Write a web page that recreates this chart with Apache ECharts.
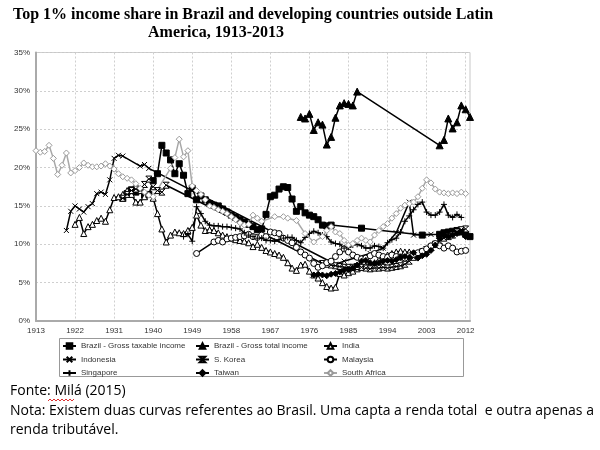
<!DOCTYPE html>
<html><head><meta charset="utf-8">
<script src="https://cdn.jsdelivr.net/npm/echarts@6/dist/echarts.min.js"></script>
<style>html,body{margin:0;padding:0;background:#fff}#c{width:600px;height:450px}</style>
</head><body><div id="c"></div>
<script>
// ---- tick labels / axis ----
const yTicks = [0, 5, 10, 15, 20, 25, 30, 35];
const firstYear = 1913, lastYear = 2013;

// ---- data (year, top 1% share in %) ----
const brTaxYears = [1933,1934,1935,1936,1937,1938,1939,1940,1941,1942,1943,1944,1945,1946,1947,1948,1949,1950,1951,1952,1953,1954,1955,1956,1957,1958,1959,1960,1961,1962,1963,1964,1965,1966,1967,1968,1969,1970,1971,1972,1973,1974,1975,1976,1977,1978,1979,1980,1981,1988,2002,2006,2007,2008,2009,2010,2011,2012,2013];
const brTaxVals  = [16.0,16.6,17.1,16.8,17.1,16.4,16.5,18.3,19.2,22.9,21.9,21.0,19.2,20.5,19.0,16.6,17.3,15.8,16.3,15.8,15.3,15.1,15.0,14.6,14.2,13.8,13.5,13.2,12.9,12.6,12.3,11.9,12.0,13.9,16.2,16.4,17.2,17.5,17.4,15.9,14.3,14.9,14.1,13.8,13.6,13.2,12.5,12.4,12.5,12.1,11.2,11.3,11.5,11.6,11.7,11.8,11.6,11.3,11.0];

const brTotYears = [1974,1975,1976,1977,1978,1979,1980,1981,1982,1983,1984,1985,1986,1987,2006,2007,2008,2009,2010,2011,2012,2013];
const brTotVals  = [26.6,26.4,27.0,24.9,25.9,25.6,23.0,24.0,26.5,28.1,28.4,28.3,28.1,29.9,22.9,23.6,26.4,25.1,25.9,28.1,27.6,26.6];

const indiaYears = [1922,1923,1924,1925,1926,1927,1928,1929,1930,1931,1932,1933,1934,1935,1936,1937,1938,1939,1940,1941,1942,1943,1944,1945,1946,1947,1948,1949,1950,1951,1952,1953,1954,1955,1956,1957,1958,1959,1960,1961,1962,1963,1964,1965,1966,1967,1968,1969,1970,1971,1972,1973,1974,1975,1976,1977,1978,1979,1980,1981,1982,1983,1984,1985,1986,1987,1988,1989,1990,1991,1992,1993,1994,1995,1996,1997,1998,1999];
const indiaVals  = [12.6,13.5,11.4,12.3,12.6,13.1,13.4,13.0,14.5,16.1,16.2,16.5,17.0,16.5,15.5,15.5,16.2,16.5,16.0,14.0,12.0,10.3,11.2,11.6,11.5,11.4,11.8,12.2,13.8,12.5,11.8,11.9,11.8,11.5,11.2,11.0,10.8,10.6,10.5,10.4,10.2,9.7,10.0,9.6,9.2,9.0,8.8,8.6,8.3,7.6,6.9,6.6,7.3,7.4,6.5,6.0,5.6,5.0,4.5,4.3,4.4,6.2,6.0,6.3,6.5,6.8,7.0,7.2,7.4,7.6,8.0,8.3,8.6,8.8,9.0,9.1,9.0,9.0];

const indoYears = [1920,1921,1922,1923,1924,1925,1926,1927,1928,1929,1930,1931,1932,1933,1937,1938,1939,1982,1984,1987,1990,1993,1996,1999,2000,2004];
const indoVals  = [11.8,14.3,15.0,14.6,14.2,14.9,15.3,16.6,16.8,16.5,18.4,21.2,21.6,21.5,20.2,20.4,19.9,7.4,7.8,8.3,8.8,9.5,11.5,15.5,11.2,11.3];

const koreaYears = [1933,1934,1935,1936,1937,1938,1939,1940,1941,1942,1943,1979,1980,1981,1982,1983,1984,1985,1986,1987,1988,1989,1990,1991,1992,1993,1994,1995,1996,1997,1998,1999,2000,2001,2002,2003,2004,2005,2006,2007,2008,2009,2010,2011,2012];
const koreaVals  = [16.0,16.5,17.0,17.2,17.0,17.8,18.5,17.5,17.0,16.8,17.7,7.5,7.4,7.3,7.2,7.1,7.0,7.0,7.0,7.1,7.0,6.9,6.8,6.9,6.9,7.0,6.9,7.0,7.1,7.2,7.4,7.8,8.3,8.6,9.0,9.3,9.6,10.0,10.4,10.8,11.0,11.2,11.6,11.9,12.0];

const malayYears = [1950,1954,1955,1956,1957,1958,1959,1960,1961,1962,1963,1964,1965,1966,1967,1968,1969,1970,1971,1972,1973,1974,1975,1976,1977,1978,1979,1980,1981,1982,1983,1984,1985,1986,1987,1988,1989,1990,1991,1992,1993,1994,1995,1996,1997,1998,1999,2000,2001,2002,2003,2004,2005,2006,2007,2008,2009,2010,2011,2012];
const malayVals  = [8.8,10.3,10.5,10.3,10.7,10.8,10.9,11.0,11.1,11.3,11.0,10.9,11.2,11.0,11.6,11.5,11.4,10.8,10.5,10.2,9.6,9.0,8.6,8.2,7.5,7.0,7.2,7.6,7.8,8.4,9.0,9.4,9.0,8.6,8.3,8.1,8.2,8.5,8.8,8.6,8.4,8.3,8.6,8.4,8.3,8.2,8.5,8.7,8.9,9.1,9.4,9.8,10.1,9.8,9.5,9.8,9.5,9.0,9.1,9.2];

const singYears = [1947,1948,1949,1950,1951,1952,1953,1954,1955,1956,1957,1958,1959,1960,1961,1962,1963,1964,1965,1966,1967,1968,1969,1970,1971,1972,1973,1974,1975,1976,1977,1978,1979,1980,1981,1982,1983,1984,1985,1986,1987,1988,1989,1990,1991,1992,1993,1994,1995,1996,1997,1998,1999,2000,2001,2002,2003,2004,2005,2006,2007,2008,2009,2010,2011];
const singVals  = [11.0,11.3,10.4,14.9,14.0,13.0,12.5,12.4,12.4,12.3,12.3,12.2,12.1,12.0,11.5,11.2,11.0,10.8,10.8,10.5,10.5,10.4,10.6,10.8,10.9,10.9,10.5,10.2,10.9,11.4,11.7,11.5,11.2,11.0,10.3,10.1,10.0,9.5,9.6,9.9,10.0,9.8,9.5,9.5,9.8,9.7,9.5,10.2,10.6,10.8,11.6,13.0,13.7,14.5,15.2,15.5,14.2,13.8,13.8,14.2,15.2,13.8,13.5,13.9,13.5];

const taiwanYears = [1977,1978,1979,1980,1981,1982,1983,1984,1985,1986,1987,1988,1989,1990,1991,1992,1993,1994,1995,1996,1997,1998,1999,2000,2001,2002,2003,2004,2005,2006,2007,2008,2009,2010,2011,2012];
const taiwanVals  = [6.0,6.1,6.0,5.9,6.1,6.2,6.4,6.6,6.7,6.9,7.3,7.8,7.9,7.6,7.5,7.6,7.8,7.9,7.8,8.0,8.3,8.4,8.3,8.9,8.2,8.5,8.7,9.2,9.9,10.8,11.2,11.0,11.2,11.4,11.6,11.0];

const saYears = [1913,1914,1915,1916,1917,1918,1919,1920,1921,1922,1923,1924,1925,1926,1927,1928,1929,1930,1931,1932,1933,1934,1935,1936,1937,1938,1939,1940,1944,1945,1946,1947,1948,1949,1950,1951,1952,1953,1954,1955,1956,1957,1958,1959,1960,1961,1962,1963,1964,1965,1968,1970,1971,1973,1975,1977,1979,1980,1981,1982,1983,1984,1985,1986,1987,1988,1989,1990,1991,1992,1993,1994,1995,1996,1997,1998,1999,2000,2001,2002,2003,2004,2005,2006,2007,2008,2009,2010,2011,2012];
const saVals  = [22.2,22.0,22.1,22.9,21.2,19.1,20.3,21.9,19.3,19.6,20.0,20.6,20.3,20.1,20.1,20.2,20.5,20.2,19.8,19.2,18.8,18.6,18.4,17.9,17.3,16.8,16.4,16.2,19.9,21.3,23.7,21.4,22.2,17.6,17.0,16.5,15.8,15.0,14.8,14.5,14.3,14.0,13.6,13.2,12.8,12.5,12.6,13.8,13.4,13.0,13.6,13.6,13.4,13.1,11.4,10.3,11.0,11.8,12.3,11.6,11.4,10.5,9.9,10.1,10.5,10.8,10.5,10.3,11.2,11.8,12.3,12.7,13.4,14.0,14.7,15.1,15.3,15.5,16.2,17.3,18.4,18.0,17.2,16.8,16.7,16.6,16.7,16.6,16.8,16.6];

// ---- chart ----
const years = [];
for (let y = firstYear; y <= lastYear; y++) years.push(String(y));
const pairs = (ys, vs) => ys.map((y, i) => [String(y), vs[i]]);

const P_X = 'path://M0,0L10,10M10,0L0,10';
const P_HG = 'path://M0,0L10,0L0,10L10,10Z';
const P_PLUS = 'path://M5,0L5,10M0,5L10,5';

function mk(name, ys, vs, symbol, size, fill, stroke, lineColor) {
  return {
    name, type: 'line', data: pairs(ys, vs), symbol, symbolSize: size,
    showAllSymbol: true, connectNulls: true,
    lineStyle: { color: lineColor || '#000', width: 1.5 },
    itemStyle: { color: fill, borderColor: stroke, borderWidth: 1 },
    emphasis: { disabled: true }, animation: false
  };
}

const series = [
  mk('Brazil - Gross taxable income', brTaxYears, brTaxVals, 'rect', 6, '#000', '#000'),
  mk('Brazil - Gross total income', brTotYears, brTotVals, 'triangle', 7, '#000', '#000'),
  mk('India', indiaYears, indiaVals, 'triangle', 6, '#fff', '#000'),
  mk('Indonesia', indoYears, indoVals, P_X, 5, '#000', '#000'),
  mk('S. Korea', koreaYears, koreaVals, P_HG, 6, '#fff', '#000'),
  mk('Malaysia', malayYears, malayVals, 'circle', 6, '#fff', '#000'),
  mk('Singapore', singYears, singVals, P_PLUS, 6, '#000', '#000'),
  mk('Taiwan', taiwanYears, taiwanVals, 'diamond', 6, '#000', '#000'),
  mk('South Africa', saYears, saVals, 'diamond', 6, '#fff', '#9a9a9a', '#a8a8a8')
];

const legendBase = {
  orient: 'vertical', itemWidth: 13, itemHeight: 7, itemGap: 5.5, padding: 0,
  textStyle: { fontSize: 8, color: '#333', fontFamily: 'Liberation Sans' },
  selectedMode: false
};

const chart = echarts.init(document.getElementById('c'), null, { renderer: 'canvas' });
chart.setOption({
  animation: false,
  backgroundColor: '#fff',
  grid: { left: 36, top: 52.5, width: 434, bottom: 129, show: true, borderColor: '#c8c8c8', borderWidth: 1 },
  xAxis: {
    type: 'category', data: years, boundaryGap: false,
    axisLine: { lineStyle: { color: '#aaa', width: 2 } },
    axisTick: { show: false, interval: 8 },
    axisLabel: { interval: 8, fontSize: 8, color: '#333', fontFamily: 'Liberation Sans', margin: 6 },
    splitLine: { show: true, interval: 8, lineStyle: { color: '#cfcfcf', type: [2, 2], width: 1 } }
  },
  yAxis: {
    type: 'value', min: yTicks[0], max: yTicks[yTicks.length - 1], interval: 5,
    axisLine: { show: true, lineStyle: { color: '#aaa', width: 2 } },
    axisTick: { show: false },
    axisLabel: { formatter: '{value}%', fontSize: 8, color: '#333', fontFamily: 'Liberation Sans', margin: 6 },
    splitLine: { show: true, lineStyle: { color: '#cfcfcf', type: [2, 2], width: 1 } }
  },
  legend: [
    Object.assign({ left: 62, top: 342, data: ['Brazil - Gross taxable income', 'Indonesia', 'Singapore'] }, legendBase),
    Object.assign({ left: 195, top: 342, data: ['Brazil - Gross total income', 'S. Korea', 'Taiwan'] }, legendBase),
    Object.assign({ left: 323, top: 342, data: ['India', 'Malaysia', 'South Africa'] }, legendBase)
  ],
  graphic: [
    { type: 'rect', shape: { x: 59.5, y: 338.5, width: 404, height: 38 }, style: { fill: 'none', stroke: '#999', lineWidth: 1 }, silent: true },
    { type: 'text', left: 13, top: 7, style: { text: 'Top 1% income share in Brazil and developing countries outside Latin', font: 'bold 16px "Liberation Serif"', fill: '#000' } },
    { type: 'text', x: 216, y: 25, style: { text: 'America, 1913-2013', font: 'bold 16px "Liberation Serif"', fill: '#000', textAlign: 'center' } },
    { type: 'text', left: 10, top: 384, style: { text: 'Fonte: Milá (2015)', font: '14px "Open Sans"', fill: '#000' } },
    { type: 'polyline', shape: { points: [[48,401],[50,399],[52,401],[54,399],[56,401],[58,399],[60,401],[62,399],[64,401],[66,399],[68,401],[70,399],[72,401],[74,399]] }, style: { stroke: '#d33', lineWidth: 1, fill: 'none' }, silent: true },
    { type: 'text', left: 10, top: 404, style: { text: 'Nota: Existem duas curvas referentes ao Brasil. Uma capta a renda total  e outra apenas a', font: '14px "Open Sans"', fill: '#000' } },
    { type: 'text', left: 10, top: 423, style: { text: 'renda tributável.', font: '14px "Open Sans"', fill: '#000' } }
  ],
  series
});
</script></body></html>
